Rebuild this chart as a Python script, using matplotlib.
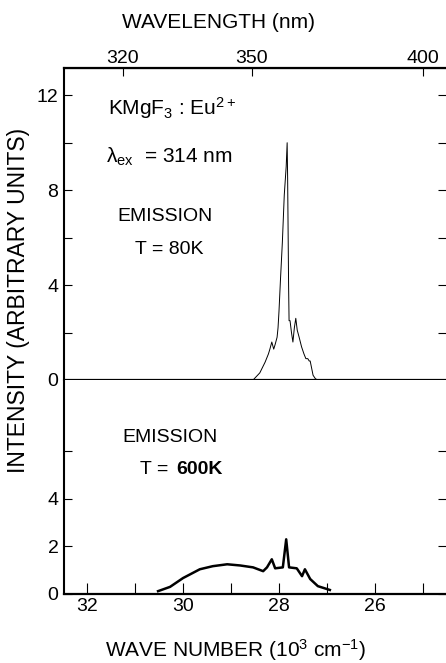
import matplotlib
matplotlib.use('Agg')
import matplotlib.pyplot as plt

plt.rcParams['font.family'] = ['Liberation Sans', 'DejaVu Sans']
plt.rcParams['mathtext.fontset'] = 'custom'
plt.rcParams['mathtext.rm'] = 'Liberation Sans'
plt.rcParams['mathtext.it'] = 'Liberation Sans'

# emission at 80 K (wave number in 10^3 cm^-1, intensity arb. units)
wn_80 = [28.54, 28.40, 28.29, 28.22, 28.19, 28.15, 28.11, 28.08, 28.04, 28.02,
         28.00, 27.97, 27.93, 27.89, 27.85, 27.83, 27.82, 27.80, 27.79, 27.77,
         27.74, 27.71, 27.68, 27.65, 27.62, 27.58, 27.53, 27.48, 27.44, 27.40,
         27.37, 27.35, 27.32, 27.29, 27.24, 27.19]
int_80 = [0.0, 0.3, 0.75, 1.1, 1.3, 1.6, 1.3, 1.5, 1.8, 2.2,
          2.9, 4.2, 5.8, 7.8, 9.0, 10.0, 8.5, 4.0, 2.5, 2.5,
          2.0, 1.6, 2.2, 2.6, 2.1, 1.8, 1.4, 1.1, 0.9, 0.9,
          0.8, 0.8, 0.5, 0.2, 0.05, 0.0]

# emission at 600 K
wn_600 = [30.52, 30.27, 30.00, 29.65, 29.38, 29.08, 28.81, 28.54, 28.33, 28.25,
          28.15, 28.08, 27.92, 27.85, 27.79, 27.63, 27.52, 27.46, 27.35, 27.19, 26.94]
int_600 = [0.12, 0.3, 0.67, 1.04, 1.17, 1.25, 1.2, 1.12, 0.96, 1.12,
           1.46, 1.08, 1.12, 2.3, 1.12, 1.08, 0.75, 1.04, 0.63, 0.33, 0.17]

x_ticks = [32, 31, 30, 29, 28, 27, 26, 25]
x_labels = ['32', '', '30', '', '28', '', '26', '']
wl_ticks = [320, 350, 400]
y_ticks_top = [0, 2, 4, 6, 8, 10, 12]
y_labels_top = ['0', '', '4', '', '8', '', '12']
y_ticks_bot = [0, 2, 4, 6]
y_labels_bot = ['0', '2', '4', '']

W, H = 446, 663
fig = plt.figure(figsize=(W / 100, H / 100), dpi=100)

left = 64 / W
width = 1.0 - left
ax1 = fig.add_axes([left, 1 - 380 / H, width, (380 - 68) / H])
ax2 = fig.add_axes([left, 1 - 594 / H, width, (594 - 380) / H], sharex=ax1)

for ax in (ax1, ax2):
    ax.set_xlim(32.48, 24.52)
    ax.spines['right'].set_visible(False)
    ax.spines['left'].set_linewidth(1.5)
    ax.tick_params(direction='in', length=6, width=0.8, labelsize=14, right=True, pad=4)

ax1.set_ylim(0, 13.15)
ax2.set_ylim(0, 9.0)

ax1.plot(wn_80, int_80, color='black', lw=0.7)
ax1.axhline(0, color='black', lw=1.6)
ax2.plot(wn_600, int_600, color='black', lw=1.8)

ax1.spines['bottom'].set_visible(False)
ax1.spines['top'].set_linewidth(1.6)
ax2.spines['top'].set_visible(False)
ax2.spines['bottom'].set_linewidth(1.6)

ax1.set_yticks(y_ticks_top)
ax1.set_yticklabels(y_labels_top)
ax2.set_yticks(y_ticks_bot)
ax2.set_yticklabels(y_labels_bot)

ax1.tick_params(axis='x', bottom=False, labelbottom=False, top=False)
ax2.set_xticks(x_ticks)
ax2.set_xticklabels(x_labels)
ax2.tick_params(axis='x', length=8, labelsize=14, pad=3)

secx = ax1.secondary_xaxis('top', functions=(lambda x: 1e4 / x, lambda x: 1e4 / x))
secx.set_xticks(wl_ticks)
secx.tick_params(direction='in', length=6, labelsize=14, pad=1)

fig.text(218 / W, 1 - 22 / H, 'WAVELENGTH (nm)', fontsize=15, ha='center', va='center')
ax2.set_xlabel('WAVE NUMBER (10$^3$ cm$^{-1}$)', fontsize=15)
ax2.xaxis.set_label_coords((236 - 64) / (W - 64), -0.2)
fig.text(19 / W, 1 - 300 / H, 'INTENSITY (ARBITRARY UNITS)', rotation=90,
         ha='center', va='center', fontsize=16.5)

fig.text(108 / W, 1 - 115 / H, 'KMgF$_3$ : Eu$^{2+}$', fontsize=15, va='baseline')
fig.text(106 / W, 1 - 163 / H, '$\\lambda_{ex}$  = 314 nm', fontsize=15, va='baseline')
fig.text(165 / W, 1 - 217 / H, 'EMISSION', fontsize=14, ha='center', va='center')
fig.text(169 / W, 1 - 250 / H, 'T = 80K', fontsize=14, ha='center', va='center')
fig.text(170 / W, 1 - 438 / H, 'EMISSION', fontsize=14, ha='center', va='center')
fig.text(140 / W, 1 - 470 / H, 'T = ', fontsize=14, va='center')
fig.text(176 / W, 1 - 470 / H, '600K', fontsize=14, va='center', fontweight='bold')

fig.savefig('out.png', dpi=100)
